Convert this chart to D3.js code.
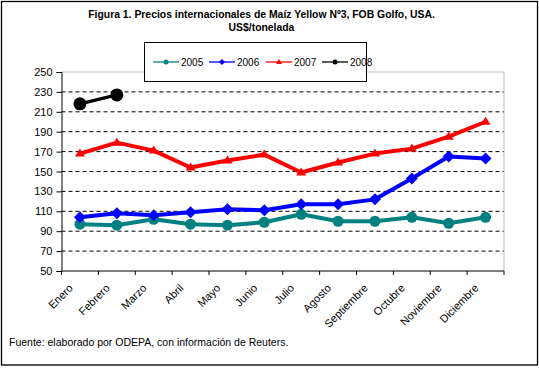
<!DOCTYPE html>
<html><head><meta charset="utf-8">
<script src="https://cdn.jsdelivr.net/npm/d3@7"></script>
<style>body{margin:0;background:#fff;} svg{display:block;font-family:Arial,"Liberation Sans",sans-serif;}</style>
</head><body>
<script>
const months = ["Enero","Febrero","Marzo","Abril","Mayo","Junio","Julio","Agosto","Septiembre","Octubre","Noviembre","Diciembre"];
const yTicks = [50,70,90,110,130,150,170,190,210,230,250];
const s2005 = [97,96,102,97,96,99,107,100,100,104,98,104];
const s2006 = [104,108,106,109,112,111,117,117,122,143,165,163];
const s2007 = [168,179,171,154,161,167,149,159,168,173,185,200];
const s2008 = [218,227];
const seriesNames = ["2005","2006","2007","2008"];
const seriesColors = ["#008080","#0000FF","#FF0000","#000000"];

const W=539,H=368;
const svg=d3.select("body").append("svg").attr("width",W).attr("height",H);
svg.append("rect").attr("x",1.5).attr("y",1.5).attr("width",536).attr("height",363.5).attr("fill","#fff").attr("stroke","#000").attr("stroke-width",1.3);

const L=61.5,R=504,T=72,B=271;
const x=d3.scaleBand().domain(months).range([L,R]);
const y=d3.scaleLinear().domain([50,250]).range([B,T]);

// title
svg.append("text").attr("x",261.5).attr("y",18).attr("text-anchor","middle").attr("font-size",10.4).attr("font-weight","bold").text("Figura 1. Precios internacionales de Maíz Yellow Nº3, FOB Golfo, USA.");
svg.append("text").attr("x",261.5).attr("y",31).attr("text-anchor","middle").attr("font-size",10.4).attr("font-weight","bold").text("US$/tonelada");

// grid
svg.append("g").selectAll("line").data(yTicks.filter(v=>v>50&&v<250)).join("line")
  .attr("x1",L).attr("x2",R).attr("y1",d=>y(d)).attr("y2",d=>y(d))
  .attr("stroke","#000").attr("stroke-width",1).attr("stroke-dasharray","4,3");
// gray top/right border
svg.append("path").attr("d",`M${L},${T}H${R}V${B}`).attr("fill","none").attr("stroke","#bbb").attr("stroke-width",1);

// axes
const yAxis=svg.append("g").attr("transform",`translate(${L},0)`).call(d3.axisLeft(y).tickValues(yTicks).tickSize(5).tickPadding(4));
yAxis.select(".domain").attr("stroke","#000");
yAxis.selectAll("text").attr("font-size",11).attr("font-family","Arial, 'Liberation Sans', sans-serif").attr("fill","#000");
const xAxis=svg.append("g").attr("transform",`translate(0,${B})`);
xAxis.append("line").attr("x1",L).attr("x2",R).attr("stroke","#000");
xAxis.selectAll("line.tk").data(months.map((m,i)=>i).concat([12])).join("line").attr("class","tk")
  .attr("x1",i=>i<12?x(months[i]):R).attr("x2",i=>i<12?x(months[i]):R).attr("y1",0).attr("y2",4).attr("stroke","#000");
xAxis.selectAll("text").data(months).join("text")
  .attr("transform",d=>`translate(${x(d)+x.bandwidth()/2-9},${15}) rotate(-45)`)
  .attr("text-anchor","end").attr("font-size",11).attr("dy","0.35em").text(d=>d);

// series
const all=[s2005,s2006,s2007,s2008];
const line=d3.line().x((d,i)=>x(months[i])+x.bandwidth()/2).y(d=>y(d));
const widths=[4,4,4,3.5];
all.forEach((s,k)=>{
  svg.append("path").datum(s).attr("d",line).attr("fill","none").attr("stroke",seriesColors[k]).attr("stroke-width",widths[k]).attr("stroke-linejoin","round");
});
const pts=(s)=>s.map((v,i)=>[x(months[i])+x.bandwidth()/2,y(v)]);
svg.append("g").selectAll("circle").data(pts(s2005)).join("circle").attr("cx",d=>d[0]).attr("cy",d=>d[1]).attr("r",5.5).attr("fill","#008080");
svg.append("g").selectAll("path").data(pts(s2006)).join("path").attr("transform",d=>`translate(${d[0]},${d[1]})`)
  .attr("d","M0,-6L6,0L0,6L-6,0Z").attr("fill","#0000FF");
svg.append("g").selectAll("path").data(pts(s2007)).join("path").attr("transform",d=>`translate(${d[0]},${d[1]})`)
  .attr("d","M0,-5L5,3L-5,3Z").attr("fill","#FF0000");
svg.append("g").selectAll("circle").data(pts(s2008)).join("circle").attr("cx",d=>d[0]).attr("cy",d=>d[1]).attr("r",6.5).attr("fill","#000");

// legend
const lg=svg.append("g");
lg.append("rect").attr("x",144.5).attr("y",42.5).attr("width",222).attr("height",39).attr("fill","#fff").attr("stroke","#000").attr("stroke-width",1);
const lx=[153,209,266,322];
seriesNames.forEach((n,k)=>{
  const g=lg.append("g");
  g.append("line").attr("x1",lx[k]).attr("x2",lx[k]+26).attr("y1",62).attr("y2",62).attr("stroke",seriesColors[k]).attr("stroke-width",1.3);
  const cx=lx[k]+13;
  if(k===0||k===3) g.append("circle").attr("cx",cx).attr("cy",62).attr("r",2.5).attr("fill",seriesColors[k]);
  else if(k===1) g.append("path").attr("d",`M${cx},59L${cx+3},62L${cx},65L${cx-3},62Z`).attr("fill",seriesColors[k]);
  else g.append("path").attr("d",`M${cx},59L${cx+3},64L${cx-3},64Z`).attr("fill",seriesColors[k]);
  g.append("text").attr("x",lx[k]+28).attr("y",65.5).attr("font-size",10).text(n);
});

// footer
svg.append("text").attr("x",9).attr("y",346).attr("font-size",10.5).text("Fuente: elaborado por ODEPA, con información de Reuters.");
</script>
</body></html>
